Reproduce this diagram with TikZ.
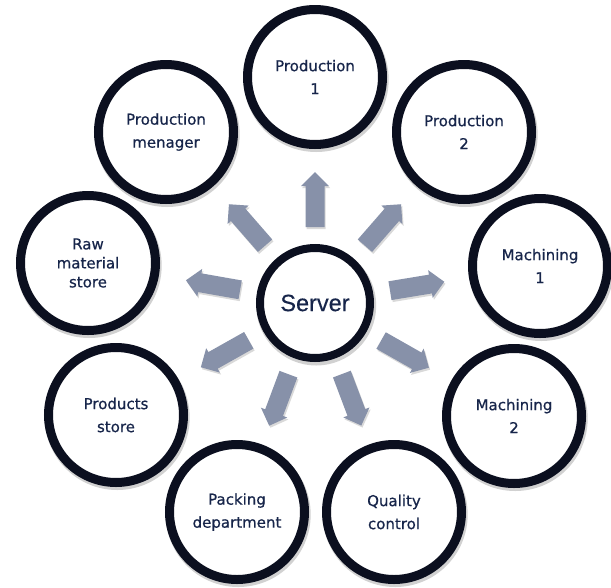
\documentclass[tikz,border=0pt]{standalone}
\usepackage{fontspec}
\setmainfont{DejaVu Sans}[FakeBold=0.6]
\newfontfamily\hubfont{Liberation Sans}[FakeBold=0.3]
\usetikzlibrary{calc}

\definecolor{ringcol}{HTML}{0B0F1F}
\definecolor{labelcol}{HTML}{17254A}
\definecolor{arrowcol}{HTML}{8791A9}

\tikzset{
  ringshadow/.style={preaction={draw=black, draw opacity=0.18, line width=10pt,
      transform canvas={shift={(1.2pt,-2.5pt)}}}},
  unit/.style={circle, draw=ringcol, line width=9pt, fill=white, ringshadow,
      minimum size=135pt, inner sep=0pt, text=labelcol, align=center,
      font=\fontsize{15}{23}\selectfont},
  hub/.style={unit, line width=8pt, minimum size=110pt,
      font=\hubfont\fontsize{23.5}{28}\selectfont},
  flowarrow/.style={fill=arrowcol,
      preaction={fill=black, fill opacity=0.15,
        transform canvas={shift={(1.2pt,-2pt)}}}},
}

% block arrow pointing from the server towards a department
\newcommand\outarrow[1]{%
  \coordinate (ab) at ($(hub)!76pt!(#1)$);
  \coordinate (ah) at ($(hub)!117pt!(#1)$);
  \coordinate (at) at ($(hub)!131pt!(#1)$);
  \path[flowarrow] ($(ab)!9.5pt!90:(at)$) -- ($(ah)!9.5pt!90:(at)$)
    -- ($(ah)!14pt!90:(at)$) -- (at) -- ($(ah)!14pt!-90:(at)$)
    -- ($(ah)!9.5pt!-90:(at)$) -- ($(ab)!9.5pt!-90:(at)$) -- cycle;
}

\begin{document}
\begin{tikzpicture}[x=1pt, y=-1pt]
  \useasboundingbox[fill=white] (0,0) rectangle (611,587);

  % departments around the server
  \node[unit] (p1)   at (315,77)  {Production\\1};
  \node[unit] (p2)   at (464,132) {Production\\2};
  \node[unit] (m1)   at (540,266) {Machining\\1};
  \node[unit] (m2)   at (514,416) {Machining\\2};
  \node[unit] (qc)   at (394,512) {Quality\\control};
  \node[unit] (pack) at (237,512) {Packing\\department};
  \node[unit] (ps)   at (116,415) {Products\\store};
  \node[unit, font=\fontsize{15}{19}\selectfont] (raw) at (88,263) {Raw\\material\\store};
  \node[unit] (pm)   at (166,132) {Production\\menager};

  % central server
  \node[hub] (hub) at (315,303) {Server};

  % arrows out of the server
  \foreach \t in {p1,p2,m1,m2,qc,pack,ps,raw,pm} {\outarrow{\t}}
\end{tikzpicture}
\end{document}
